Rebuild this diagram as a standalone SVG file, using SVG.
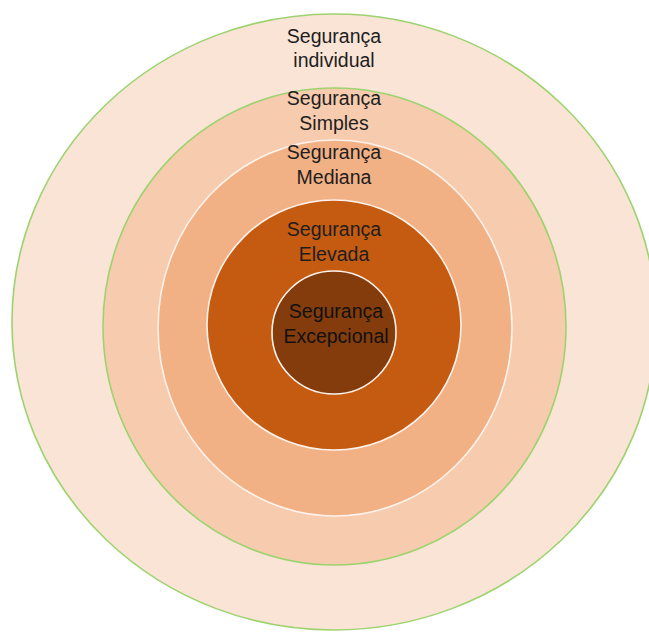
<svg xmlns="http://www.w3.org/2000/svg" width="649" height="633" viewBox="0 0 649 633">
<style>
.t{font-family:"Liberation Sans",Arial,sans-serif;font-size:19.5px;fill:#1e1e1e;text-anchor:middle}
.g{stroke:#9dd36f;stroke-width:1.6}
.w{stroke:#fdf3ec;stroke-width:1.6}
</style>
<rect width="649" height="633" fill="#ffffff"/>
<g id="individual">
<ellipse class="g" cx="334" cy="322" rx="322" ry="308" fill="#fae4d6"/>
<text class="t" x="334" y="43">Segurança</text>
<text class="t" x="334" y="67">individual</text>
</g>
<g id="simples">
<ellipse class="g" cx="334.5" cy="326.5" rx="231.5" ry="238.5" fill="#f7cbad"/>
<text class="t" x="334" y="105">Segurança</text>
<text class="t" x="334" y="130">Simples</text>
</g>
<g id="mediana">
<ellipse class="w" cx="335" cy="328" rx="177" ry="188" fill="#f2b085"/>
<text class="t" x="334" y="159">Segurança</text>
<text class="t" x="334" y="184">Mediana</text>
</g>
<g id="elevada">
<ellipse class="w" cx="334" cy="325" rx="127" ry="125" fill="#c55a11"/>
<text class="t" x="334" y="236">Segurança</text>
<text class="t" x="334" y="261">Elevada</text>
</g>
<g id="excepcional">
<ellipse class="w" cx="334" cy="332.5" rx="62" ry="61.5" fill="#843c0c" stroke="#f0d4c0"/>
<text class="t" x="336" y="318" style="fill:#111">Segurança</text>
<text class="t" x="336" y="343" style="fill:#111">Excepcional</text>
</g>
<g id="connectors"></g>
</svg>
